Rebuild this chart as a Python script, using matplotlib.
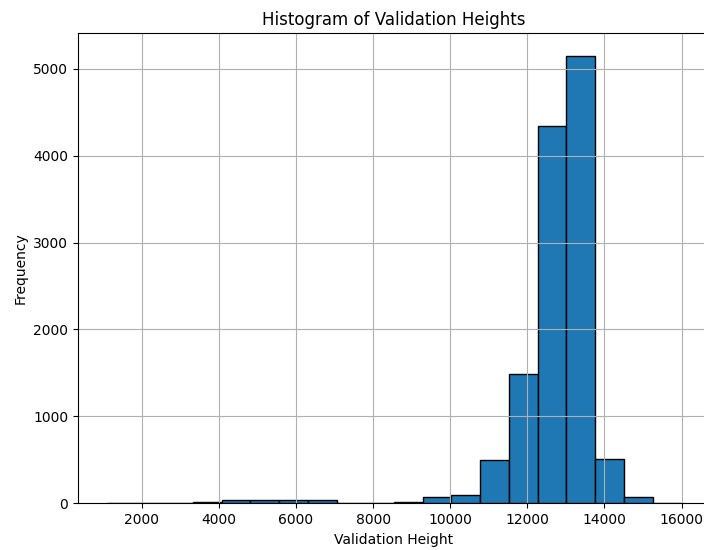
import numpy as np
import matplotlib
matplotlib.use('Agg')
import matplotlib.pyplot as plt

# 20 bins between the smallest and largest validation height
height_min = 1091
height_max = 15991
bin_counts = [5, 5, 5, 15, 40, 40, 40, 40, 5, 5,
              15, 75, 95, 495, 1485, 4345, 5150, 510, 75, 5]

n_bins = len(bin_counts)
width = (height_max - height_min) / n_bins
bin_centers = [height_min + width * (i + 0.5) for i in range(n_bins)]

fig = plt.figure(figsize=(7.04, 5.5), dpi=100)
ax = fig.add_axes([78 / 704, 46.7 / 550, 632 / 704, 470 / 550])

ax.hist(bin_centers, bins=n_bins, range=(height_min, height_max),
        weights=bin_counts, color='#1f77b4', edgecolor='black')
ax.set_title('Histogram of Validation Heights', fontsize=12)
ax.set_xlabel('Validation Height')
ax.set_ylabel('Frequency')
ax.grid(True)

fig.savefig('out.png', dpi=100)
